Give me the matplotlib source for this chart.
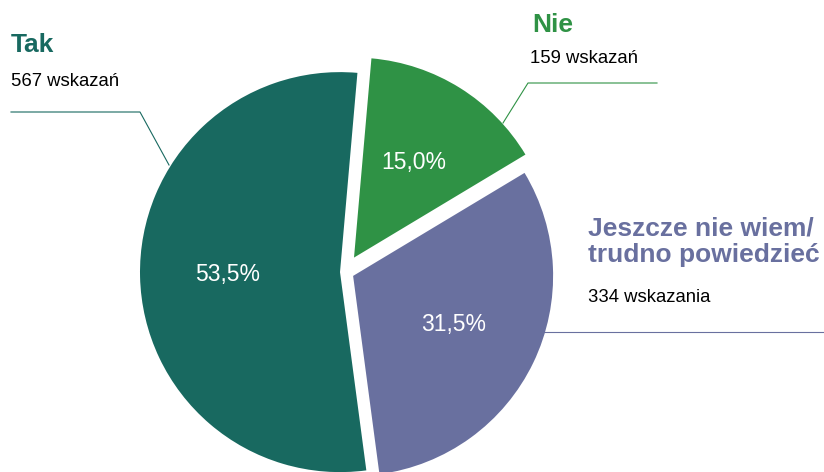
import matplotlib
matplotlib.use("Agg")
import matplotlib.pyplot as plt

plt.rcParams['font.family'] = ['Liberation Sans', 'DejaVu Sans']

# ---- data ----
categories = ["Tak", "Nie", "Jeszcze nie wiem/\ntrudno powiedzieć"]
counts = [567, 159, 334]
count_labels = ["567 wskazań", "159 wskazań", "334 wskazania"]
colors = ["#186960", "#2f9245", "#69709f"]

W, H = 824, 472
def Y(py):
    return H - py

fig = plt.figure(figsize=(W / 100, H / 100), dpi=100)
ax = fig.add_axes([0, 0, 1, 1])

total = sum(counts)
tak_share = counts[0] / total
start = 85 + 360 * tak_share  # Tak ends at 85 deg going clockwise

wedges, texts, autotexts = ax.pie(
    counts, colors=colors, startangle=start, counterclock=False,
    explode=[5, 17, 9], radius=200, center=(345, Y(272)),
    autopct=lambda p: f"{p:.1f}%".replace('.', ','), pctdistance=0.56,
    wedgeprops=dict(linewidth=0), frame=True,
    textprops=dict(color='white', fontsize=16.5))
ax.set_xlim(0, W)
ax.set_ylim(0, H)
ax.axis('off')

# leader lines
ax.plot([11, 140, 169], [Y(112), Y(112), Y(165)], color=colors[0], lw=0.8)
ax.plot([503, 528, 657], [Y(123), Y(83), Y(83)], color=colors[1], lw=0.8)
ax.plot([543, 824], [Y(332), Y(332)], color=colors[2], lw=0.8)

# header labels
ax.text(11, Y(52), categories[0], color=colors[0], fontsize=19,
        fontweight='bold', va='baseline', ha='left')
ax.text(11, Y(86.5), count_labels[0], color='black', fontsize=13.3,
        va='baseline', ha='left')

ax.text(532, Y(32), categories[1], color=colors[1], fontsize=19,
        fontweight='bold', va='baseline', ha='left')
ax.text(530, Y(63), count_labels[1], color='black', fontsize=13.3,
        va='baseline', ha='left')

line1, line2 = categories[2].split("\n")
ax.text(588, Y(236), line1, color=colors[2], fontsize=19,
        fontweight='bold', va='baseline', ha='left')
ax.text(588, Y(262), line2, color=colors[2], fontsize=19,
        fontweight='bold', va='baseline', ha='left')
ax.text(588, Y(302), count_labels[2], color='black', fontsize=13.3,
        va='baseline', ha='left')

fig.savefig("out.png", dpi=100)
